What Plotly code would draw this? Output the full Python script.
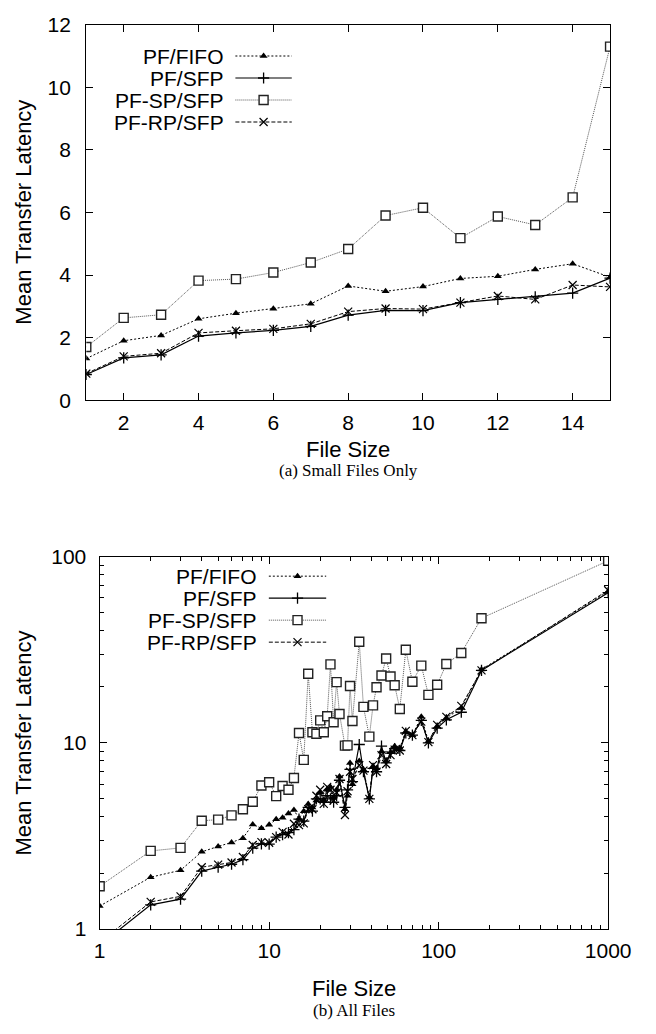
import plotly.graph_objects as go

# file sizes 1..15 (shown in both plots)
small_sizes = list(range(1, 16))
small_fifo = [1.33, 1.90, 2.07, 2.60, 2.78, 2.92, 3.08, 3.65, 3.48, 3.63, 3.89, 3.96, 4.18, 4.36, 3.93]
small_sfp = [0.82, 1.35, 1.45, 2.05, 2.15, 2.23, 2.36, 2.72, 2.87, 2.86, 3.12, 3.22, 3.30, 3.42, 3.90]
small_sp = [1.70, 2.63, 2.73, 3.82, 3.87, 4.08, 4.40, 4.83, 5.90, 6.15, 5.18, 5.87, 5.60, 6.48, 11.30]
small_rp = [0.85, 1.40, 1.50, 2.15, 2.22, 2.28, 2.44, 2.83, 2.93, 2.91, 3.12, 3.33, 3.22, 3.68, 3.62]

# larger file sizes (only in the all-files plot)
large_sizes = [16, 17, 18, 19, 20, 21, 22, 23, 24, 25, 26, 28, 29, 30, 31, 34, 36, 39, 41, 43,
               46, 49, 52, 55, 59, 64, 70, 79, 87, 98, 111, 136, 179, 1000]
large_fifo = [4.3, 4.7, 4.5, 4.9, 5.4, 4.9, 5.6, 5.8, 5.1, 5.6, 6.6, 4.4, 5.2, 7.8, 6.0, 8.0, 7.2, 5.1, 7.5, 7.3,
              9.0, 8.0, 8.9, 9.6, 9.4, 11.5, 11.0, 13.8, 10.2, 12.3, 13.6, 15.4, 24.8, 65]
large_sfp = [3.8, 4.5, 4.3, 5.0, 5.0, 4.8, 5.2, 5.0, 4.8, 5.2, 6.3, 4.5, 5.6, 7.2, 6.2, 9.8, 7.0, 5.0, 7.3, 7.0,
             9.6, 7.8, 8.8, 9.3, 9.1, 11.3, 11.0, 13.2, 10.0, 12.0, 13.3, 14.6, 24.5, 64]
large_sp = [8.1, 23.5, 11.4, 11.2, 13.2, 11.4, 13.9, 26.4, 12.9, 21.2, 14.3, 9.67, 9.7, 20.2, 13.1, 34.9, 15.6, 10.8, 15.9, 19.9,
            23.0, 28.4, 22.7, 20.4, 15.2, 31.6, 21.3, 26.0, 18.1, 20.5, 26.5, 30.4, 46.7, 95]
large_rp = [3.7, 4.4, 4.4, 5.2, 5.6, 4.7, 5.8, 5.6, 4.9, 5.4, 6.4, 4.1, 5.5, 7.0, 6.4, 7.6, 7.1, 5.0, 7.6, 7.0,
            8.6, 7.7, 8.6, 9.2, 9.1, 11.6, 11.0, 13.0, 10.1, 12.5, 13.8, 15.8, 24.5, 66]

names = ["PF/FIFO", "PF/SFP", "PF-SP/SFP", "PF-RP/SFP"]
small_vals = [small_fifo, small_sfp, small_sp, small_rp]
large_vals = [large_fifo, large_sfp, large_sp, large_rp]

# line / marker style per series (gnuplot-like)
styles = {
    "PF/FIFO": dict(line=dict(color="black", width=1, dash="2px,2px"),
                    marker=dict(symbol="triangle-up", size=7, color="black")),
    "PF/SFP": dict(line=dict(color="black", width=1.2, dash="solid"),
                   marker=dict(symbol="cross-thin-open", size=8, color="black", line=dict(width=1.3, color="black"))),
    "PF-SP/SFP": dict(line=dict(color="#555555", width=1, dash="1px,1px"),
                      marker=dict(symbol="square", size=9, color="white", line=dict(width=1.4, color="#222222"))),
    "PF-RP/SFP": dict(line=dict(color="black", width=1, dash="4px,2px"),
                      marker=dict(symbol="x-thin-open", size=8, color="black", line=dict(width=1.2, color="black"))),
}

W, H = 656, 1034
SANS = "Liberation Sans, Arial, sans-serif"
SERIF = "Liberation Serif, Times New Roman, serif"

fig = go.Figure()

for name, vals in zip(names, small_vals):
    st = styles[name]
    fig.add_trace(go.Scatter(x=small_sizes, y=vals, mode="lines+markers", name=name,
                             line=st["line"], marker=st["marker"], showlegend=False,
                             xaxis="x", yaxis="y"))

for name, sv, lv in zip(names, small_vals, large_vals):
    st = styles[name]
    fig.add_trace(go.Scatter(x=small_sizes + large_sizes, y=sv + lv, mode="lines+markers", name=name,
                             line=st["line"], marker=st["marker"], showlegend=False,
                             xaxis="x2", yaxis="y2"))

# gnuplot-style keys (text right aligned, sample to the right), drawn in a pixel-space overlay
keys = [(230, 45, 240, 299), (265, 577, 275, 335)]
row_gap = 22.5
annotations = []
for tx, ty, lx0, lx1 in keys:
    for i, name in enumerate(names):
        st = styles[name]
        y = ty + i * row_gap
        fig.add_trace(go.Scatter(x=[lx0, lx1], y=[y, y], mode="lines", line=st["line"],
                                 showlegend=False, xaxis="x3", yaxis="y3"))
        fig.add_trace(go.Scatter(x=[(lx0 + lx1) / 2], y=[y], mode="markers", marker=st["marker"],
                                 showlegend=False, xaxis="x3", yaxis="y3"))
        annotations.append(dict(x=tx, y=y, xref="x3", yref="y3", text=name, showarrow=False,
                                xanchor="right", yanchor="middle", font=dict(family=SANS, size=21, color="black")))

texts = [
    ("Mean Transfer Latency", 18, 205, SANS, 22, -90),
    ("Mean Transfer Latency", 18, 748, SANS, 22, -90),
    ("File Size", 358, 447, SANS, 22, 0),
    ("(a) Small Files Only", 358, 469, SERIF, 17, 0),
    ("File Size", 364, 999, SANS, 22, 0),
    ("(b) All Files", 364, 1021, SERIF, 17, 0),
]
for t, x, y, fam, sz, ang in texts:
    annotations.append(dict(x=x, y=y, xref="x3", yref="y3", text=t, showarrow=False, textangle=ang,
                            xanchor="center", yanchor="middle", font=dict(family=fam, size=sz, color="black")))

axis_common = dict(showline=True, linecolor="black", linewidth=1.3, mirror="allticks",
                   ticks="inside", ticklen=7, tickwidth=1, tickcolor="black",
                   showgrid=False, zeroline=False, tickfont=dict(family=SANS, size=21, color="black"))

minor_x = [m * d for d in (1, 10, 100) for m in range(2, 10)]
minor_y = [m * d for d in (1, 10) for m in range(2, 10)]

fig.update_layout(
    width=W, height=H,
    margin=dict(l=0, r=0, t=0, b=0),
    paper_bgcolor="white", plot_bgcolor="rgba(0,0,0,0)",
    showlegend=False,
    xaxis=dict(domain=[84 / W, 632 / W], anchor="y", range=[1, 15], tickmode="linear", tick0=0, dtick=2,
               ticklabelstandoff=3, **axis_common),
    yaxis=dict(domain=[1 - 397 / H, 1 - 13 / H], anchor="x", range=[0, 12], tickmode="linear", tick0=0, dtick=2,
               ticklabelstandoff=10, **axis_common),
    xaxis2=dict(domain=[98 / W, 630 / W], anchor="y2", type="log", range=[0, 3],
                tickmode="array", tickvals=[1, 10, 100, 1000], ticktext=["1", "10", "100", "1000"],
                minor=dict(tickmode="array", tickvals=minor_x, ticks="inside", ticklen=4, tickcolor="black",
                           showgrid=False),
                ticklabelstandoff=3, **axis_common),
    yaxis2=dict(domain=[1 - 938 / H, 1 - 557 / H], anchor="x2", type="log", range=[0, 2],
                tickmode="array", tickvals=[1, 10, 100], ticktext=["1", "10", "100"],
                minor=dict(tickmode="array", tickvals=minor_y, ticks="inside", ticklen=4, tickcolor="black",
                           showgrid=False),
                ticklabelstandoff=8, **axis_common),
    xaxis3=dict(domain=[0, 1], anchor="y3", range=[0, W], visible=False, fixedrange=True),
    yaxis3=dict(domain=[0, 1], anchor="x3", range=[H, 0], visible=False, fixedrange=True),
    annotations=annotations,
)

fig.write_html("out.html", config={"displayModeBar": False},
               post_script="document.body.style.margin='0';")
